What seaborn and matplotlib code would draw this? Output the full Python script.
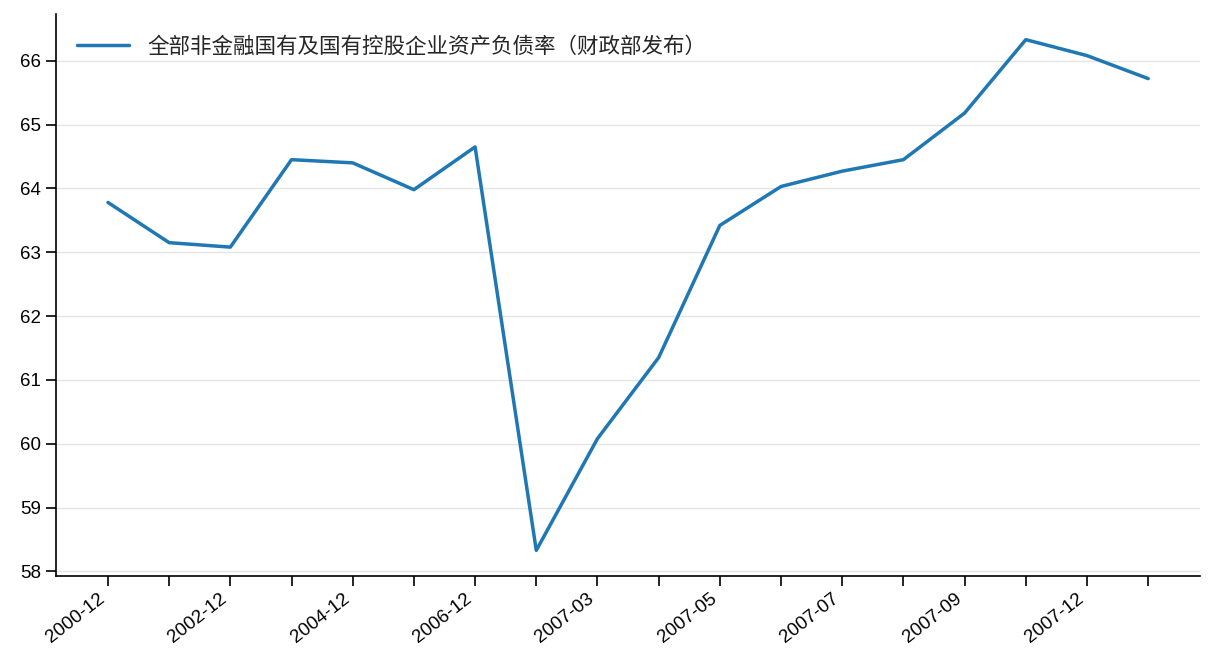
import pandas as pd
import seaborn as sns
import matplotlib.pyplot as plt

# periods (only every other one is labelled on the axis)
periods = ["2000-12", "2001-12", "2002-12", "2003-12", "2004-12", "2005-12",
           "2006-12", "2007-02", "2007-03", "2007-04", "2007-05", "2007-06",
           "2007-07", "2007-08", "2007-09", "2007-11", "2007-12", "2008-01"]
ratio = [63.78, 63.15, 63.08, 64.45, 64.40, 63.98, 64.65, 58.33, 60.08,
         61.35, 63.42, 64.03, 64.27, 64.45, 65.18, 66.33, 66.08, 65.72]
series_name = "全部非金融国有及国有控股企业资产负债率（财政部发布）"

df = pd.DataFrame({"period": periods, "ratio": ratio})
df["pos"] = range(len(df))

sns.set_style("ticks")
plt.rcParams["font.family"] = ["Liberation Sans", "Noto Sans CJK SC", "DejaVu Sans"]

fig, ax = plt.subplots(figsize=(12.16, 6.72), dpi=100)
sns.lineplot(data=df, x="pos", y="ratio", color="#1f77b4", linewidth=2.5,
             label=series_name, ax=ax)

ax.set_xticks(df["pos"])
ax.set_xticklabels([p if i % 2 == 0 else "" for i, p in enumerate(periods)],
                   rotation=38, ha="right", fontsize=13.5)
ax.tick_params(axis="both", colors="black", length=7, width=1.2, labelsize=13.5)
for s in ax.spines.values():
    s.set_color("black")
    s.set_linewidth(1.2)
ax.set_xlabel("")
ax.set_ylabel("")
ax.yaxis.grid(True, color="#e5e5e5", linewidth=1)
ax.set_axisbelow(True)
sns.despine(ax=ax)

ax.legend(loc="upper left", frameon=False, handlelength=2.4, handletextpad=0.85,
          borderaxespad=0.6,
          prop={"family": ["Noto Sans CJK SC", "DejaVu Sans"], "size": 15.5})

fig.subplots_adjust(left=0.046, right=0.987, top=0.979, bottom=0.143)
fig.savefig("out.png", dpi=100)
